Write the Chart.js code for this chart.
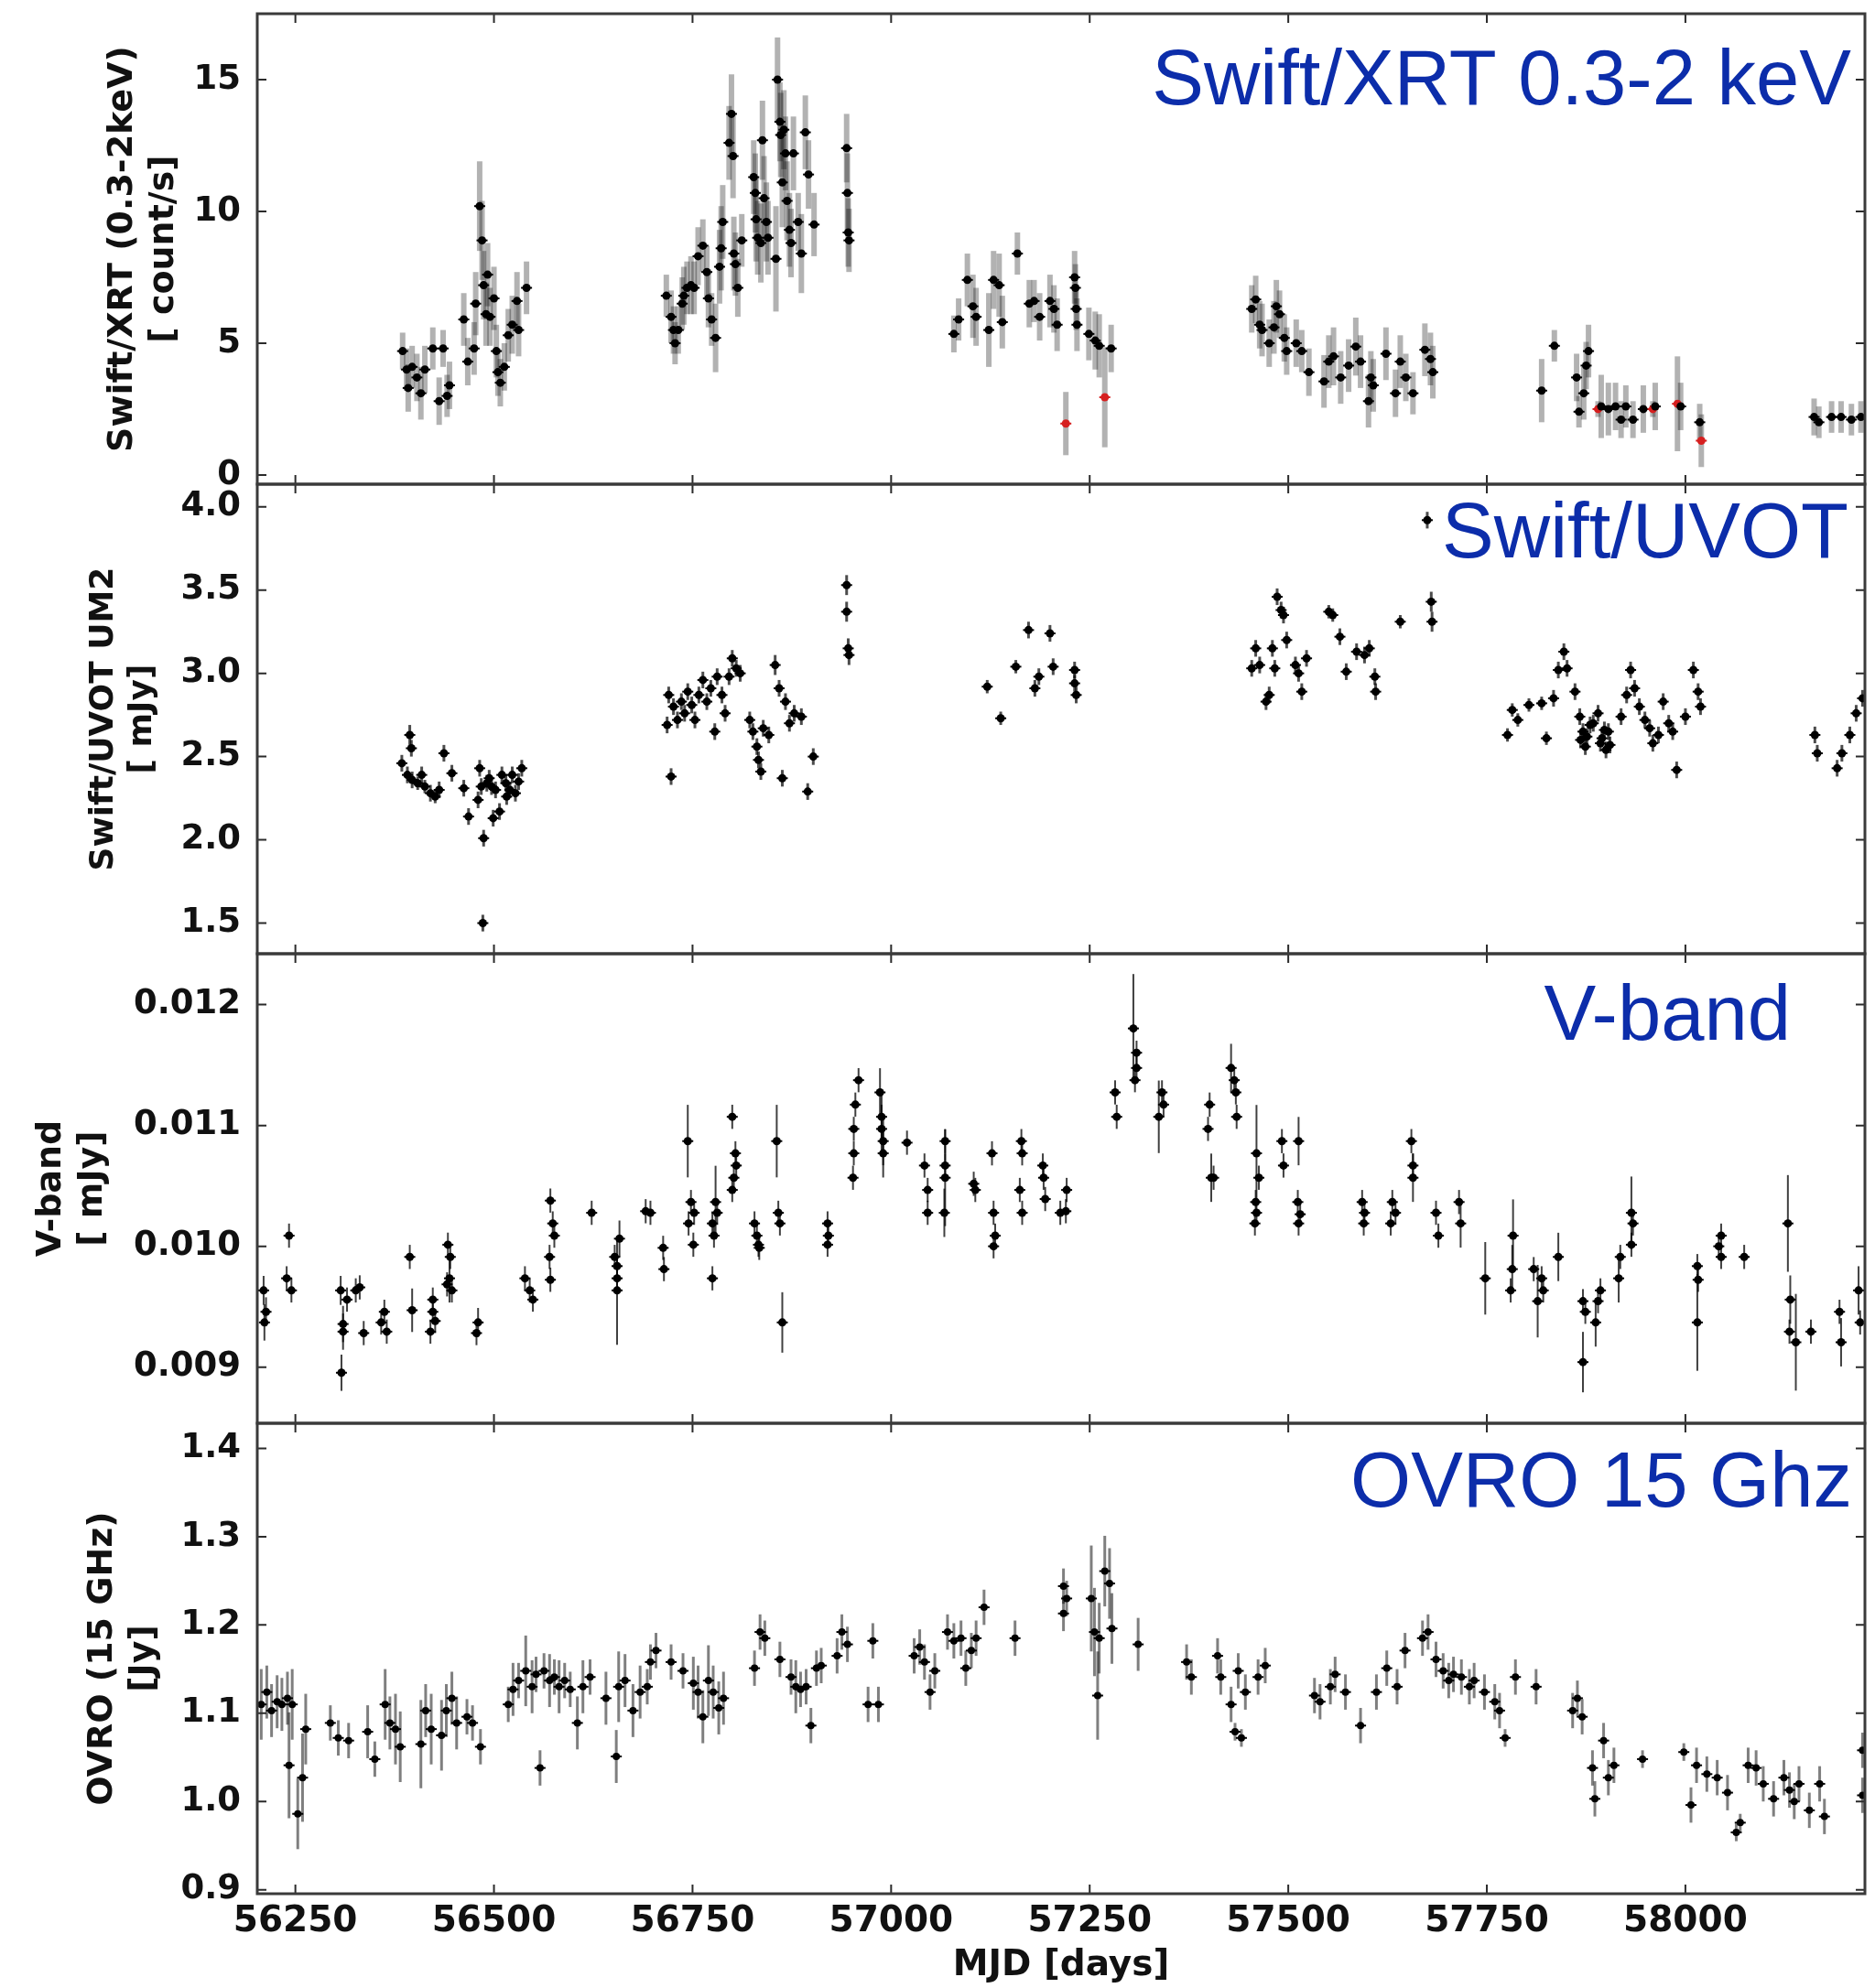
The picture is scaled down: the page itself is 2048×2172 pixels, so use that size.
<!DOCTYPE html>
<html>
<head>
<meta charset="utf-8">
<title>Multi-band light curves</title>
<script src="https://cdn.jsdelivr.net/npm/chart.js@4.4.1/dist/chart.umd.min.js"></script>
<style>
  html, body { margin: 0; padding: 0; background: #fff; }
  #wrap { position: relative; width: 2048px; height: 2172px; overflow: hidden; }
  #wrap canvas { position: absolute; left: 0; top: 0; }
</style>
</head>
<body>
<div id="wrap">
  <canvas id="xrt" width="2048" height="2172"></canvas>
  <canvas id="uvot" width="2048" height="2172"></canvas>
  <canvas id="vband" width="2048" height="2172"></canvas>
  <canvas id="ovro" width="2048" height="2172"></canvas>
</div>
<script>
// tick values
const mjdTicks = [56250, 56500, 56750, 57000, 57250, 57500, 57750, 58000];
const xrtTicks = [0, 5, 10, 15];
const uvotTicks = [1.5, 2.0, 2.5, 3.0, 3.5, 4.0];
const vbandTicks = [0.009, 0.010, 0.011, 0.012];
const ovroTicks = [0.9, 1.0, 1.1, 1.2, 1.3, 1.4];

// rows are [MJD, value, error]
const xrtPoints = [
  [56385, 4.7, 0.7], [56390, 4.0, 0.8], [56392, 3.3, 0.9], [56397, 4.1, 0.8], [56403, 3.7, 0.9],
  [56408, 3.1, 1.0], [56413, 4.0, 0.9], [56423, 4.8, 0.8], [56431, 2.8, 0.9], [56436, 4.8, 0.7],
  [56441, 3.0, 0.8], [56444, 3.4, 0.9], [56462, 5.9, 1.0], [56467, 4.3, 0.9], [56475, 4.8, 1.0],
  [56477, 6.5, 1.2], [56482, 10.2, 1.7], [56485, 8.9, 1.5], [56487, 7.2, 1.3], [56490, 6.1, 1.2],
  [56492, 7.6, 1.2], [56495, 6.0, 1.1], [56500, 6.7, 1.2], [56503, 4.7, 1.0], [56505, 3.9, 0.9],
  [56508, 3.5, 0.9], [56513, 4.1, 0.9], [56518, 5.3, 1.0], [56523, 5.7, 1.1], [56529, 6.6, 1.1],
  [56531, 5.5, 1.0], [56541, 7.1, 1.0],
  [56717, 6.8, 0.8], [56723, 6.0, 1.0], [56726, 5.5, 0.9], [56728, 5.0, 0.8], [56732, 5.5, 0.9],
  [56737, 6.5, 1.0], [56739, 6.8, 1.1], [56743, 7.1, 1.0], [56748, 7.2, 1.1], [56752, 7.1, 1.0],
  [56757, 8.3, 1.1], [56763, 8.7, 1.0], [56768, 7.7, 1.0], [56770, 6.7, 1.1], [56774, 5.9, 1.0],
  [56779, 5.2, 1.3], [56784, 7.9, 1.4], [56786, 8.6, 1.6], [56788, 9.6, 1.4], [56796, 12.6, 1.4],
  [56799, 13.7, 1.5], [56801, 12.1, 1.6], [56802, 8.4, 1.4], [56804, 8.0, 1.2], [56807, 7.1, 1.1],
  [56812, 8.9, 1.0], [56827, 11.3, 1.4], [56829, 10.7, 1.5], [56830, 9.7, 1.6], [56832, 9.0, 1.4],
  [56836, 8.8, 1.5], [56838, 12.7, 1.5], [56840, 10.5, 1.6], [56843, 9.6, 1.5], [56845, 9.0, 1.4],
  [56855, 8.2, 2.0], [56857, 15.0, 1.6], [56860, 13.4, 1.5], [56861, 12.9, 1.6], [56863, 11.1, 1.7],
  [56865, 13.1, 1.5], [56867, 12.2, 1.4], [56869, 10.4, 1.5], [56872, 9.3, 1.4], [56874, 8.8, 1.3],
  [56877, 12.2, 1.4], [56883, 9.6, 1.1], [56887, 8.4, 1.5], [56892, 13.0, 1.4], [56896, 11.4, 1.3],
  [56903, 9.5, 1.2], [56944, 12.4, 1.3], [56945, 10.7, 1.5], [56946, 9.2, 1.3], [56947, 8.9, 1.2],
  [57079, 5.35, 0.7], [57085, 5.9, 0.8], [57096, 7.4, 1.0], [57103, 6.4, 1.2], [57107, 6.0, 1.1],
  [57123, 5.5, 1.4], [57129, 7.4, 1.1], [57136, 7.2, 1.2], [57140, 5.8, 1.0], [57159, 8.4, 0.8],
  [57174, 6.5, 0.9], [57180, 6.6, 0.8], [57187, 6.0, 0.9], [57200, 6.6, 1.0], [57205, 6.3, 0.9],
  [57209, 5.7, 1.0], [57231, 7.5, 1.0], [57232, 7.1, 0.9], [57233, 6.3, 0.8], [57234, 5.7, 1.0],
  [57249, 5.35, 1.0], [57257, 5.1, 1.1], [57262, 4.9, 1.2], [57277, 4.8, 0.9],
  [57454, 6.3, 0.9], [57459, 6.66, 0.9], [57464, 5.7, 0.9], [57467, 5.5, 1.0], [57476, 5.0, 0.9],
  [57482, 5.6, 1.0], [57485, 6.4, 1.0], [57489, 6.1, 0.9], [57495, 5.2, 0.9], [57498, 4.7, 0.9],
  [57510, 5.0, 0.9], [57517, 4.7, 0.8], [57526, 3.9, 0.9], [57545, 3.55, 1.0], [57551, 4.3, 1.0],
  [57557, 4.5, 1.1], [57566, 3.7, 1.0], [57576, 4.15, 1.0], [57585, 4.87, 1.1], [57591, 4.3, 1.0],
  [57601, 2.8, 1.0], [57604, 3.7, 1.0], [57607, 3.4, 1.0], [57623, 4.6, 1.0], [57635, 3.1, 0.9],
  [57641, 4.3, 1.0], [57648, 3.7, 0.9], [57657, 3.1, 0.8], [57672, 4.75, 1.0], [57679, 4.4, 1.0],
  [57682, 3.9, 1.0],
  [57819, 3.2, 1.2], [57835, 4.9, 0.6], [57863, 3.7, 0.9], [57866, 2.4, 0.6], [57872, 3.1, 1.0],
  [57875, 4.15, 0.9], [57878, 4.7, 1.0], [57894, 2.6, 1.2], [57903, 2.5, 1.0], [57912, 2.6, 0.9],
  [57919, 2.1, 0.7], [57925, 2.6, 0.8], [57934, 2.1, 0.7], [57947, 2.5, 0.9], [57962, 2.6, 0.9],
  [57994, 2.6, 0.9], [58018, 2.0, 0.7],
  [58162, 2.2, 0.7], [58168, 2.0, 0.6], [58184, 2.2, 0.6], [58196, 2.2, 0.6], [58209, 2.1, 0.6],
  [58221, 2.2, 0.6]
];

const xrtFlagged = [
  [57220, 1.95, 1.2], [57269, 2.95, 1.9], [57890, 2.5, 0.3], [57959, 2.5, 0.3],
  [57990, 2.7, 1.8], [58020, 1.3, 1.0]
];

const uvotPoints = [
  [56384, 2.46, 0.05], [56391, 2.39, 0.05], [56394, 2.63, 0.06], [56396, 2.55, 0.05], [56397, 2.36, 0.05],
  [56404, 2.34, 0.04], [56409, 2.39, 0.05], [56413, 2.32, 0.04], [56420, 2.28, 0.05], [56426, 2.26, 0.04],
  [56431, 2.30, 0.05], [56437, 2.52, 0.05], [56447, 2.40, 0.05], [56462, 2.31, 0.05], [56468, 2.14, 0.05],
  [56480, 2.24, 0.05], [56482, 2.43, 0.05], [56484, 2.32, 0.05], [56486, 1.50, 0.05], [56487, 2.01, 0.05],
  [56491, 2.34, 0.05], [56494, 2.37, 0.05], [56497, 2.32, 0.05], [56499, 2.13, 0.05], [56502, 2.30, 0.05],
  [56507, 2.17, 0.05], [56510, 2.39, 0.05], [56515, 2.34, 0.05], [56516, 2.26, 0.05], [56520, 2.30, 0.05],
  [56523, 2.39, 0.05], [56527, 2.28, 0.05], [56531, 2.35, 0.05], [56535, 2.43, 0.05],
  [56718, 2.69, 0.05], [56720, 2.87, 0.05], [56723, 2.38, 0.05], [56726, 2.80, 0.05], [56731, 2.72, 0.05],
  [56736, 2.83, 0.05], [56740, 2.76, 0.05], [56744, 2.89, 0.05], [56749, 2.81, 0.05], [56753, 2.72, 0.05],
  [56758, 2.87, 0.05], [56763, 2.96, 0.05], [56768, 2.83, 0.05], [56773, 2.91, 0.05], [56778, 2.65, 0.05],
  [56781, 2.98, 0.05], [56787, 2.87, 0.05], [56791, 2.76, 0.05], [56796, 2.98, 0.05], [56800, 3.09, 0.05],
  [56805, 3.03, 0.05], [56810, 3.00, 0.05], [56822, 2.72, 0.05], [56826, 2.65, 0.05], [56831, 2.56, 0.05],
  [56833, 2.48, 0.05], [56836, 2.41, 0.05], [56839, 2.67, 0.05], [56846, 2.63, 0.05], [56854, 3.05, 0.06],
  [56859, 2.91, 0.05], [56863, 2.37, 0.05], [56867, 2.83, 0.05], [56872, 2.70, 0.05], [56878, 2.76, 0.05],
  [56887, 2.74, 0.05], [56895, 2.29, 0.05], [56902, 2.50, 0.05],
  [56944, 3.53, 0.06], [56944, 3.37, 0.06], [56946, 3.15, 0.06], [56947, 3.11, 0.06],
  [57121, 2.92, 0.04], [57138, 2.73, 0.04], [57157, 3.04, 0.04], [57173, 3.26, 0.05], [57181, 2.91, 0.05],
  [57186, 2.98, 0.05], [57200, 3.24, 0.05], [57204, 3.04, 0.05], [57231, 3.02, 0.05], [57231, 2.94, 0.05],
  [57233, 2.87, 0.05],
  [57454, 3.03, 0.05], [57459, 3.15, 0.05], [57464, 3.05, 0.05], [57472, 2.83, 0.05], [57476, 2.87, 0.05],
  [57480, 3.15, 0.05], [57483, 3.03, 0.05], [57486, 3.46, 0.05], [57491, 3.38, 0.05], [57494, 3.35, 0.05],
  [57498, 3.20, 0.05], [57509, 3.05, 0.05], [57513, 3.00, 0.05], [57517, 2.89, 0.05], [57523, 3.09, 0.05],
  [57551, 3.37, 0.04], [57556, 3.35, 0.04], [57565, 3.22, 0.05], [57573, 3.01, 0.05], [57586, 3.13, 0.05],
  [57596, 3.11, 0.05], [57602, 3.15, 0.05], [57609, 2.98, 0.05], [57610, 2.89, 0.05], [57641, 3.31, 0.04],
  [57675, 3.92, 0.05], [57680, 3.43, 0.06], [57681, 3.31, 0.06],
  [57776, 2.63, 0.04], [57782, 2.78, 0.04], [57789, 2.72, 0.04], [57803, 2.81, 0.04], [57819, 2.82, 0.04],
  [57825, 2.61, 0.04], [57834, 2.85, 0.05], [57840, 3.02, 0.05], [57847, 3.13, 0.05], [57851, 3.03, 0.05],
  [57861, 2.89, 0.05], [57867, 2.74, 0.05], [57868, 2.60, 0.05], [57871, 2.65, 0.05], [57874, 2.56, 0.05],
  [57876, 2.62, 0.05], [57880, 2.69, 0.05], [57884, 2.70, 0.05], [57890, 2.76, 0.05], [57893, 2.58, 0.05],
  [57895, 2.61, 0.05], [57898, 2.66, 0.05], [57900, 2.54, 0.05], [57903, 2.65, 0.05], [57905, 2.57, 0.05],
  [57919, 2.74, 0.05], [57926, 2.87, 0.05], [57931, 3.02, 0.05], [57936, 2.91, 0.05], [57942, 2.80, 0.05],
  [57949, 2.72, 0.05], [57955, 2.67, 0.05], [57959, 2.58, 0.05], [57966, 2.63, 0.05], [57972, 2.83, 0.05],
  [57979, 2.70, 0.05], [57984, 2.65, 0.05], [57989, 2.42, 0.05], [58000, 2.74, 0.05], [58010, 3.02, 0.05],
  [58016, 2.89, 0.05], [58019, 2.80, 0.05],
  [58163, 2.63, 0.05], [58166, 2.52, 0.05], [58191, 2.43, 0.05], [58197, 2.52, 0.05], [58207, 2.63, 0.05],
  [58215, 2.76, 0.05], [58223, 2.85, 0.05]
];

const vbandPoints = [
  [56210, 0.009636, 0.00012], [56211, 0.009371, 0.00015], [56213, 0.009459, 0.00012], [56239, 0.009736, 0.0001],
  [56242, 0.010089, 0.0001], [56245, 0.009636, 0.0001], [56307, 0.009636, 0.00012], [56308, 0.008955, 0.00015],
  [56310, 0.009358, 0.00015], [56310, 0.009295, 0.00015], [56315, 0.009560, 0.0001], [56326, 0.009636, 0.0001],
  [56331, 0.009661, 0.0001], [56336, 0.009283, 0.0001], [56358, 0.009371, 0.0001], [56362, 0.009459, 0.0001],
  [56365, 0.009295, 0.0001], [56394, 0.009913, 0.0001], [56397, 0.009472, 0.00018], [56420, 0.009295, 0.0001],
  [56423, 0.009459, 0.0001], [56423, 0.009560, 0.0001], [56426, 0.009383, 0.0001], [56441, 0.009686, 0.0001],
  [56442, 0.010014, 0.0001], [56444, 0.009736, 0.0002], [56445, 0.009913, 0.0001], [56447, 0.009636, 0.0001],
  [56478, 0.009283, 0.0001], [56480, 0.009371, 0.00012], [56539, 0.009736, 0.0001], [56545, 0.009636, 0.0001],
  [56549, 0.009560, 0.0001], [56570, 0.009913, 0.0001], [56571, 0.010379, 0.0001], [56571, 0.009724, 0.0001],
  [56574, 0.010190, 0.0001], [56576, 0.010089, 0.0001], [56623, 0.010278, 0.0001], [56652, 0.009913, 0.0001],
  [56655, 0.009837, 0.0001], [56655, 0.009736, 0.0001], [56655, 0.009636, 0.00045], [56658, 0.010064, 0.00015],
  [56691, 0.010291, 0.0001], [56697, 0.010278, 0.0001], [56713, 0.009988, 0.0001], [56714, 0.009812, 0.0001],
  [56744, 0.010871, 0.0003], [56745, 0.010190, 0.0001], [56748, 0.010367, 0.0001], [56751, 0.010014, 0.0001],
  [56752, 0.010278, 0.0001], [56775, 0.009736, 0.0001], [56775, 0.010190, 0.0001], [56777, 0.010089, 0.0001],
  [56779, 0.010367, 0.0003], [56781, 0.010278, 0.0001], [56800, 0.011072, 0.0001], [56800, 0.010467, 0.0001],
  [56802, 0.010568, 0.0001], [56804, 0.010770, 0.0001], [56805, 0.010669, 0.0001], [56828, 0.010190, 0.0001],
  [56831, 0.010089, 0.0001], [56833, 0.010014, 0.0001], [56834, 0.009988, 0.0001], [56856, 0.010871, 0.0003],
  [56858, 0.010278, 0.0001], [56860, 0.010190, 0.0001], [56863, 0.009371, 0.00025], [56920, 0.010190, 0.0001],
  [56920, 0.010014, 0.0001], [56921, 0.010089, 0.0001], [56952, 0.010568, 0.0001], [56953, 0.010770, 0.0001],
  [56953, 0.010972, 0.0001], [56955, 0.011173, 0.0001], [56959, 0.011375, 0.0001], [56986, 0.011274, 0.0002],
  [56988, 0.011072, 0.0002], [56988, 0.010972, 0.0002], [56990, 0.010871, 0.0002], [56990, 0.010770, 0.0002],
  [57020, 0.010858, 0.0001], [57042, 0.010669, 0.0001], [57046, 0.010467, 0.0001], [57046, 0.010278, 0.0001],
  [57067, 0.010278, 0.0002], [57068, 0.010871, 0.0001], [57068, 0.010669, 0.0001], [57068, 0.010568, 0.0004],
  [57104, 0.010518, 0.0001], [57106, 0.010467, 0.0001], [57127, 0.010770, 0.0001], [57129, 0.010278, 0.0001],
  [57129, 0.010001, 0.0001], [57131, 0.010089, 0.0001], [57162, 0.010467, 0.0001], [57164, 0.010871, 0.0001],
  [57165, 0.010770, 0.0001], [57165, 0.010278, 0.0001], [57191, 0.010669, 0.0001], [57192, 0.010568, 0.0001],
  [57194, 0.010392, 0.0001], [57213, 0.010278, 0.0001], [57220, 0.010291, 0.0001], [57221, 0.010467, 0.0001],
  [57282, 0.011274, 0.0001], [57284, 0.011072, 0.0001], [57305, 0.011803, 0.00045], [57307, 0.011375, 0.0001],
  [57309, 0.011602, 0.0001], [57309, 0.011476, 0.0001], [57337, 0.011072, 0.0003], [57341, 0.011274, 0.0001],
  [57343, 0.011173, 0.0001], [57399, 0.010972, 0.0001], [57401, 0.011173, 0.0001], [57403, 0.010568, 0.0002],
  [57406, 0.010568, 0.0001], [57428, 0.011476, 0.0002], [57432, 0.011375, 0.0001], [57434, 0.011274, 0.0001],
  [57435, 0.011072, 0.0001], [57458, 0.010190, 0.0001], [57459, 0.010367, 0.0001], [57460, 0.010770, 0.0004],
  [57460, 0.010278, 0.0001], [57463, 0.010568, 0.0001], [57492, 0.010871, 0.0001], [57494, 0.010669, 0.0001],
  [57512, 0.010367, 0.0001], [57513, 0.010871, 0.0002], [57513, 0.010190, 0.0001], [57515, 0.010266, 0.0001],
  [57593, 0.010367, 0.0001], [57595, 0.010190, 0.0001], [57596, 0.010278, 0.0001], [57629, 0.010190, 0.0001],
  [57631, 0.010367, 0.0001], [57635, 0.010278, 0.0001], [57655, 0.010871, 0.0001], [57657, 0.010669, 0.0001],
  [57657, 0.010568, 0.0002], [57686, 0.010278, 0.0001], [57689, 0.010089, 0.0001], [57715, 0.010367, 0.0001],
  [57717, 0.010190, 0.0002], [57748, 0.009736, 0.0003], [57780, 0.009636, 0.0001], [57782, 0.009812, 0.0002],
  [57783, 0.010089, 0.0003], [57809, 0.009812, 0.0001], [57814, 0.009547, 0.0003], [57819, 0.009736, 0.0001],
  [57821, 0.009636, 0.0001], [57840, 0.009913, 0.0002], [57871, 0.009043, 0.00025], [57871, 0.009547, 0.0001],
  [57874, 0.009459, 0.0001], [57887, 0.009371, 0.0002], [57890, 0.009547, 0.0001], [57893, 0.009636, 0.0001],
  [57916, 0.009736, 0.0002], [57918, 0.009913, 0.0001], [57932, 0.010014, 0.0001], [57932, 0.010278, 0.0003],
  [57934, 0.010190, 0.0001], [58015, 0.009837, 0.0001], [58015, 0.009371, 0.0004], [58016, 0.009724, 0.0001],
  [58042, 0.010001, 0.0001], [58045, 0.009913, 0.0001], [58045, 0.010089, 0.0001], [58074, 0.009913, 0.0001],
  [58129, 0.010190, 0.0004], [58131, 0.009295, 0.0001], [58132, 0.009560, 0.0002], [58139, 0.009207, 0.0004],
  [58158, 0.009295, 0.0001], [58194, 0.009459, 0.0001], [58196, 0.009207, 0.0002], [58218, 0.009636, 0.0002],
  [58220, 0.009371, 0.0001]
];

const ovroPoints = [
  [56207, 1.110, 0.04], [56214, 1.124, 0.03], [56220, 1.103, 0.03], [56227, 1.113, 0.03], [56233, 1.110, 0.03],
  [56240, 1.117, 0.03], [56242, 1.041, 0.06], [56246, 1.110, 0.04], [56253, 0.986, 0.04], [56259, 1.027, 0.05],
  [56263, 1.082, 0.04], [56294, 1.089, 0.02], [56304, 1.072, 0.02], [56317, 1.069, 0.02], [56341, 1.079, 0.03],
  [56350, 1.048, 0.02], [56363, 1.110, 0.04], [56369, 1.089, 0.03], [56376, 1.082, 0.04], [56382, 1.062, 0.04],
  [56408, 1.065, 0.05], [56414, 1.103, 0.03], [56421, 1.082, 0.04], [56434, 1.075, 0.04], [56440, 1.103, 0.03],
  [56447, 1.117, 0.03], [56453, 1.089, 0.03], [56466, 1.096, 0.02], [56473, 1.089, 0.02], [56483, 1.062, 0.02],
  [56518, 1.110, 0.02], [56524, 1.127, 0.03], [56531, 1.137, 0.02], [56540, 1.148, 0.04], [56548, 1.130, 0.03],
  [56553, 1.144, 0.02], [56558, 1.038, 0.02], [56563, 1.148, 0.02], [56570, 1.137, 0.03], [56576, 1.141, 0.02],
  [56582, 1.130, 0.03], [56589, 1.137, 0.02], [56596, 1.127, 0.02], [56605, 1.089, 0.03], [56612, 1.130, 0.03],
  [56621, 1.141, 0.02], [56641, 1.117, 0.03], [56654, 1.051, 0.03], [56657, 1.130, 0.04], [56665, 1.137, 0.03],
  [56675, 1.103, 0.03], [56684, 1.124, 0.03], [56693, 1.130, 0.02], [56697, 1.158, 0.02], [56704, 1.171, 0.02],
  [56723, 1.158, 0.02], [56738, 1.148, 0.02], [56751, 1.134, 0.03], [56757, 1.124, 0.03], [56763, 1.096, 0.03],
  [56770, 1.137, 0.04], [56776, 1.124, 0.03], [56783, 1.106, 0.03], [56789, 1.117, 0.03], [56828, 1.151, 0.02],
  [56835, 1.192, 0.02], [56841, 1.185, 0.02], [56860, 1.161, 0.02], [56874, 1.141, 0.02], [56880, 1.130, 0.03],
  [56886, 1.127, 0.02], [56893, 1.130, 0.02], [56899, 1.086, 0.02], [56906, 1.151, 0.02], [56912, 1.154, 0.02],
  [56932, 1.165, 0.02], [56938, 1.192, 0.02], [56945, 1.178, 0.02], [56971, 1.110, 0.02], [56977, 1.182, 0.02],
  [56984, 1.110, 0.02], [57029, 1.165, 0.02], [57036, 1.175, 0.02], [57042, 1.158, 0.02], [57049, 1.124, 0.02],
  [57055, 1.148, 0.02], [57071, 1.192, 0.02], [57079, 1.182, 0.02], [57088, 1.185, 0.02], [57094, 1.151, 0.02],
  [57101, 1.171, 0.02], [57107, 1.185, 0.02], [57117, 1.220, 0.02], [57156, 1.185, 0.02], [57217, 1.244, 0.02],
  [57217, 1.213, 0.02], [57221, 1.230, 0.02], [57252, 1.230, 0.06], [57256, 1.192, 0.05], [57260, 1.120, 0.05],
  [57262, 1.185, 0.04], [57269, 1.261, 0.04], [57275, 1.247, 0.04], [57278, 1.196, 0.04], [57311, 1.178, 0.03],
  [57372, 1.158, 0.02], [57378, 1.141, 0.02], [57411, 1.165, 0.02], [57415, 1.141, 0.02], [57428, 1.110, 0.02],
  [57433, 1.079, 0.01], [57437, 1.148, 0.02], [57441, 1.072, 0.01], [57446, 1.124, 0.02], [57462, 1.141, 0.02],
  [57471, 1.154, 0.02], [57533, 1.120, 0.02], [57540, 1.113, 0.02], [57553, 1.130, 0.02], [57559, 1.144, 0.02],
  [57572, 1.124, 0.02], [57591, 1.086, 0.02], [57611, 1.124, 0.02], [57624, 1.151, 0.02], [57637, 1.130, 0.02],
  [57647, 1.171, 0.02], [57669, 1.185, 0.02], [57676, 1.192, 0.02], [57686, 1.161, 0.02], [57695, 1.148, 0.02],
  [57702, 1.137, 0.02], [57708, 1.144, 0.02], [57718, 1.141, 0.02], [57728, 1.130, 0.02], [57734, 1.137, 0.02],
  [57747, 1.124, 0.02], [57760, 1.113, 0.02], [57766, 1.103, 0.02], [57773, 1.072, 0.01], [57786, 1.141, 0.02],
  [57812, 1.130, 0.02], [57858, 1.103, 0.02], [57864, 1.117, 0.02], [57870, 1.096, 0.02], [57883, 1.038, 0.02],
  [57886, 1.003, 0.02], [57897, 1.069, 0.02], [57903, 1.027, 0.02], [57910, 1.041, 0.02], [57946, 1.048, 0.01],
  [57998, 1.056, 0.01], [58007, 0.996, 0.02], [58014, 1.041, 0.02], [58027, 1.031, 0.02], [58040, 1.027, 0.02],
  [58053, 1.010, 0.02], [58064, 0.965, 0.01], [58069, 0.976, 0.01], [58079, 1.041, 0.02], [58089, 1.038, 0.02],
  [58098, 1.020, 0.02], [58111, 1.003, 0.02], [58124, 1.027, 0.02], [58131, 1.013, 0.02], [58137, 1.000, 0.02],
  [58143, 1.020, 0.02], [58156, 0.990, 0.02], [58169, 1.020, 0.02], [58175, 0.983, 0.02], [58223, 1.058, 0.02],
  [58223, 1.007, 0.02]
];

const W = 2048, H = 2172;
const MJD_MIN = 56202, MJD_MAX = 58226;
const PLOT_LEFT = 281, PLOT_RIGHT = 2037;
const FONT = '"DejaVu Sans", "Liberation Sans", sans-serif';

// vertical error bars + short horizontal bar through each point
const errorBars = {
  id: 'errorBars',
  beforeDatasetsDraw(chart) {
    const { ctx, chartArea: a, scales: { x, y } } = chart;
    ctx.save();
    ctx.beginPath();
    ctx.rect(a.left, a.top, a.width, a.height);
    ctx.clip();
    chart.data.datasets.forEach((ds) => {
      ds.data.forEach((p, i) => {
        const px = x.getPixelForValue(p.x);
        const py = y.getPixelForValue(p.y);
        ctx.strokeStyle = ds.errColor;
        ctx.lineWidth = ds.errWidth;
        ctx.beginPath();
        ctx.moveTo(px, y.getPixelForValue(p.y + ds.err[i]));
        ctx.lineTo(px, y.getPixelForValue(p.y - ds.err[i]));
        ctx.stroke();
        ctx.strokeStyle = ds.pointBackgroundColor;
        ctx.lineWidth = 2;
        ctx.beginPath();
        ctx.moveTo(px - 6, py);
        ctx.lineTo(px + 6, py);
        ctx.stroke();
      });
    });
    ctx.restore();
  }
};

// box, inward ticks and the blue panel label
const frame = {
  id: 'frame',
  afterDraw(chart, args, opts) {
    const { ctx, chartArea: a, scales: { x, y } } = chart;
    ctx.save();
    ctx.strokeStyle = '#2b2b2b';
    ctx.lineWidth = 2;
    ctx.beginPath();
    x.ticks.forEach((t) => {
      const px = x.getPixelForValue(t.value);
      ctx.moveTo(px, a.bottom);
      ctx.lineTo(px, a.bottom - 10);
      ctx.moveTo(px, a.top);
      ctx.lineTo(px, a.top + 10);
    });
    y.ticks.forEach((t) => {
      const py = y.getPixelForValue(t.value);
      ctx.moveTo(a.left, py);
      ctx.lineTo(a.left + 10, py);
      ctx.moveTo(a.right, py);
      ctx.lineTo(a.right - 10, py);
    });
    ctx.stroke();
    ctx.strokeStyle = '#3a3a3a';
    ctx.lineWidth = 3;
    ctx.strokeRect(a.left, a.top, a.width, a.height);

    ctx.font = '85px "Liberation Sans", Arial, sans-serif';
    ctx.fillStyle = '#0c2daa';
    ctx.textAlign = 'right';
    ctx.textBaseline = 'alphabetic';
    ctx.fillText(opts.label, a.right - opts.dx, a.top + opts.dy);
    ctx.restore();
  }
};

const panels = [
  {
    id: 'xrt', top: 15, bottom: 529, yMin: -0.35, yMax: 17.5, yTicks: xrtTicks,
    fmt: (v) => String(v),
    title: ['Swift/XRT (0.3-2keV)', '[ count/s]'], titleSize: 38, titlePad: 111.6,
    label: 'Swift/XRT 0.3-2 keV', dx: 15, dy: 99,
    series: [{ points: xrtPoints, color: '#000000' }, { points: xrtFlagged, color: '#d61f1f' }],
    errColor: 'rgba(0,0,0,0.3)', errWidth: 6, radius: 4.5
  },
  {
    id: 'uvot', top: 529, bottom: 1042, yMin: 1.316, yMax: 4.136, yTicks: uvotTicks,
    fmt: (v) => v.toFixed(1),
    title: ['Swift/UVOT UM2', '[ mJy]'], titleSize: 36, titlePad: 92,
    label: 'Swift/UVOT', dx: 18, dy: 80,
    series: [{ points: uvotPoints, color: '#000000' }],
    errColor: 'rgba(0,0,0,0.7)', errWidth: 3, radius: 4.5
  },
  {
    id: 'vband', top: 1042, bottom: 1555, yMin: 0.008537, yMax: 0.012421, yTicks: vbandTicks,
    fmt: (v) => v.toFixed(3),
    title: ['V-band', '[ mJy]'], titleSize: 38, titlePad: 33.6,
    label: 'V-band', dx: 81, dy: 94,
    series: [{ points: vbandPoints, color: '#000000' }],
    errColor: 'rgba(0,0,0,0.75)', errWidth: 2, radius: 4.5
  },
  {
    id: 'ovro', top: 1555, bottom: 2069, yMin: 0.8955, yMax: 1.4285, yTicks: ovroTicks,
    fmt: (v) => v.toFixed(1),
    title: ['OVRO (15 GHz)', '[Jy]'], titleSize: 38, titlePad: 89.6,
    label: 'OVRO 15 Ghz', dx: 14, dy: 91,
    series: [{ points: ovroPoints, color: '#000000' }],
    errColor: 'rgba(0,0,0,0.5)', errWidth: 3, radius: 4
  }
];

panels.forEach((p, k) => {
  const last = k === panels.length - 1;
  const xHeight = last ? H - p.bottom : 0;

  new Chart(document.getElementById(p.id), {
    type: 'scatter',
    data: {
      datasets: p.series.map((s) => ({
        data: s.points.map((r) => ({ x: r[0], y: r[1] })),
        err: s.points.map((r) => r[2]),
        pointStyle: 'circle',
        pointRadius: p.radius,
        pointBackgroundColor: s.color,
        pointBorderWidth: 0,
        errColor: p.errColor,
        errWidth: p.errWidth
      }))
    },
    options: {
      responsive: false,
      animation: false,
      events: [],
      devicePixelRatio: 1,
      layout: {
        padding: { top: p.top, bottom: H - p.bottom - xHeight, left: 0, right: W - PLOT_RIGHT }
      },
      plugins: {
        legend: { display: false },
        tooltip: { enabled: false },
        frame: { label: p.label, dx: p.dx, dy: p.dy }
      },
      scales: {
        x: {
          type: 'linear',
          min: MJD_MIN,
          max: MJD_MAX,
          afterBuildTicks: (s) => { s.ticks = mjdTicks.map((v) => ({ value: v })); },
          afterFit: (s) => { s.height = xHeight; s.paddingLeft = 0; s.paddingRight = 0; },
          grid: { display: false, drawTicks: false },
          border: { display: false },
          ticks: {
            display: last, maxRotation: 0, autoSkip: false, padding: 7, color: '#111',
            font: { family: FONT, size: 39, weight: 'bold' },
            callback: (v) => String(v)
          },
          title: {
            display: last, text: 'MJD [days]', color: '#111',
            font: { family: FONT, size: 39, weight: 'bold' },
            padding: { top: 0, bottom: 1 }
          }
        },
        y: {
          min: p.yMin,
          max: p.yMax,
          afterBuildTicks: (s) => { s.ticks = p.yTicks.map((v) => ({ value: v })); },
          afterFit: (s) => { s.width = PLOT_LEFT; s.paddingTop = 0; s.paddingBottom = 0; },
          grid: { display: false, drawTicks: false },
          border: { display: false },
          ticks: {
            padding: 18, color: '#111',
            font: { family: FONT, size: 37, weight: 'bold' },
            callback: (v) => p.fmt(v)
          },
          title: {
            display: true, text: p.title, color: '#111',
            font: { family: FONT, size: p.titleSize, weight: 'bold', lineHeight: 1.18 },
            padding: { top: p.titlePad, bottom: 0 }
          }
        }
      }
    },
    plugins: [errorBars, frame]
  });
});
</script>
</body>
</html>
